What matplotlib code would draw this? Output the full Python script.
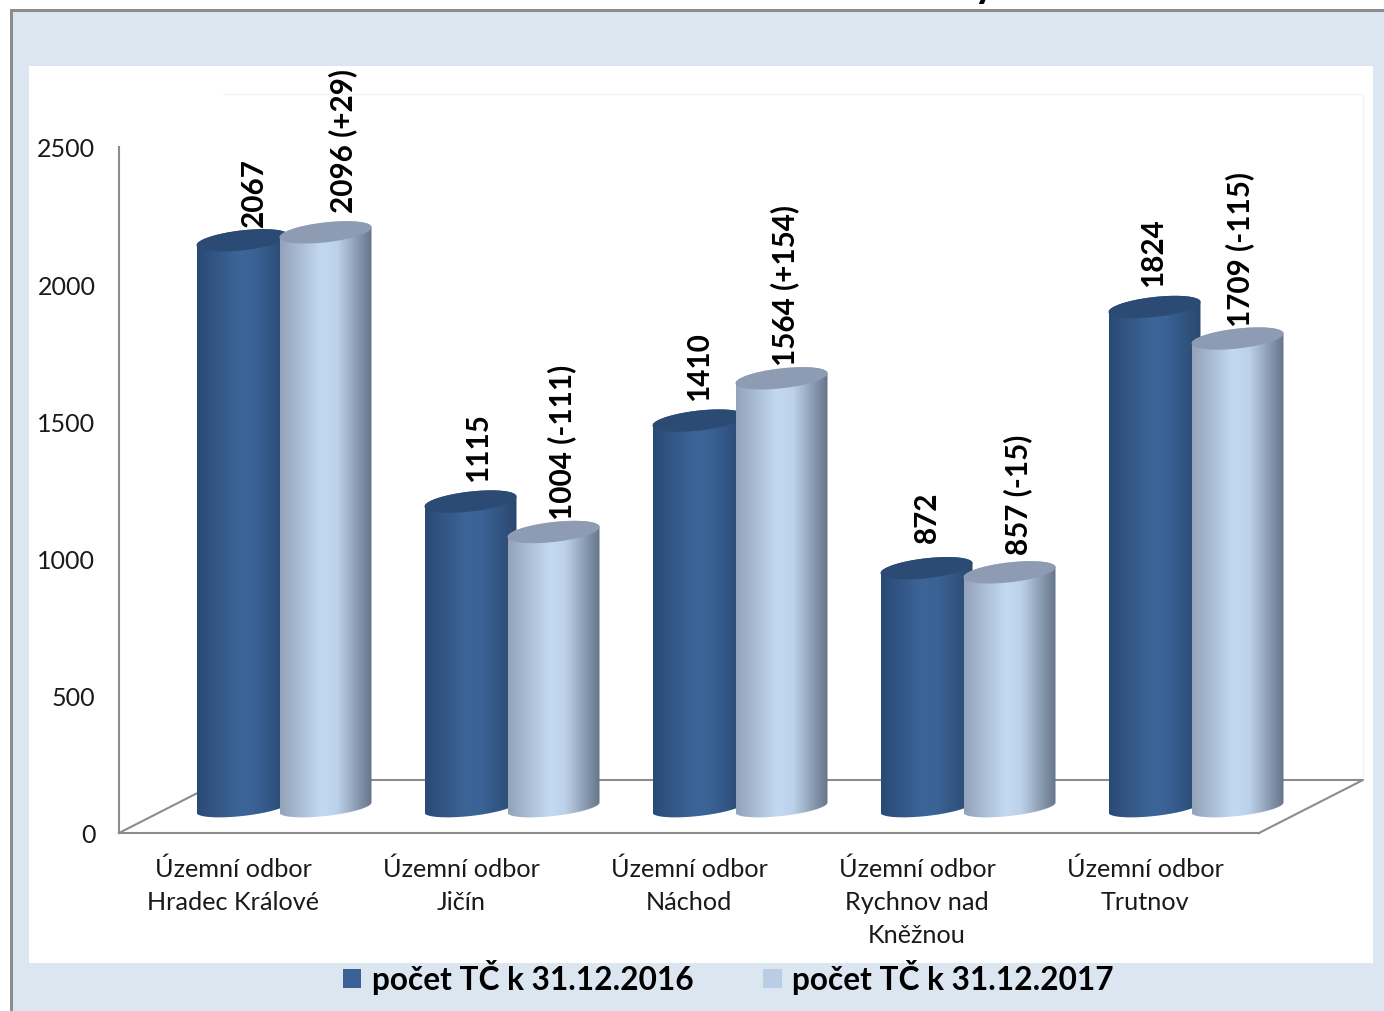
import numpy as np
import matplotlib
matplotlib.use("Agg")
import matplotlib.pyplot as plt
from matplotlib.patches import Rectangle, Polygon

plt.rcParams['font.family'] = ['Lato', 'DejaVu Sans']

# data
categories = ["Územní odbor\nHradec Králové", "Územní odbor\nJičín", "Územní odbor\nNáchod",
              "Územní odbor\nRychnov nad\nKněžnou", "Územní odbor\nTrutnov"]
pocet_2016 = [2067, 1115, 1410, 872, 1824]
pocet_2017 = [2096, 1004, 1564, 857, 1709]
labels_2016 = ["2067", "1115", "1410", "872", "1824"]
labels_2017 = ["2096 (+29)", "1004 (-111)", "1564 (+154)", "857 (-15)", "1709 (-115)"]
legend_names = ["počet TČ k 31.12.2016", "počet TČ k 31.12.2017"]
y_ticks = [0, 500, 1000, 1500, 2000, 2500]

# label nudges in pixels
nudge_x_2016 = [11, 8, 1, 0, -1]
nudge_y_2016 = [14, 21, 21, 26, 21]
nudge_x_2017 = [17, 8, 3, 8, 2]
nudge_y_2017 = [20, 13, 13, 18, 13]

W, H = 1384, 1012
PX_Y = 686 / 2500      # pixels per value
PX_X = 228             # pixels per category


def fx(x):
    return x / W


def fy(y):
    return 1 - y / H


fig = plt.figure(figsize=(W / 100, H / 100), dpi=100, facecolor="white")

# frame and panels
fig.patches.append(Rectangle((fx(10), 0), 1, fy(10), transform=fig.transFigure, fc="#8c8c8c", ec="none"))
fig.patches.append(Rectangle((fx(13), 0), 1, fy(13), transform=fig.transFigure, fc="#dce6f1", ec="none"))
fig.patches.append(Rectangle((fx(29), fy(964)), fx(1373 - 29), (964 - 67) / H, transform=fig.transFigure,
                             fc="white", ec="none"))

ax = fig.add_axes([fx(119), fy(834), 1140 / W, 686 / H], zorder=2)
ax.patch.set_alpha(0)
for s in ["top", "right"]:
    ax.spines[s].set_visible(False)
for s in ["left", "bottom"]:
    ax.spines[s].set_color("#8c8c8c")
    ax.spines[s].set_linewidth(1.5)

# 3D floor and back wall
depth_x = 104 / PX_X
depth_y = 53 / PX_Y
ax.plot([-0.5, -0.5 + depth_x, 4.5 + depth_x, 4.5], [0, depth_y, depth_y, 0],
        color="#8c8c8c", lw=1.5, clip_on=False, zorder=1)
ax.plot([-0.5 + depth_x, 4.5 + depth_x, 4.5 + depth_x], [2500 + depth_y, 2500 + depth_y, depth_y],
        color="#f3f3f3", lw=1, clip_on=False, zorder=0.5)

dark_stops = ["#2a4a76", "#3c6598", "#3a6295", "#2a4870"]
light_stops = ["#93a3b9", "#c3d9f2", "#bdd2ea", "#66758a"]
dark_top = "#2b4a74"
light_top = "#8d9cb2"


def to_rgb_grad(stops):
    rgb = np.array([matplotlib.colors.to_rgb(c) for c in stops])
    pos = [0, 0.45, 0.62, 1]
    t = np.linspace(0, 1, 128)
    return np.dstack([np.interp(t, pos, rgb[:, i]) for i in range(3)])


def cylinder(xc, value, stops, top_color, z):
    a = 46 / PX_X
    b = 10 / PX_Y
    s = 5 / PX_Y
    base = 25.5 / PX_Y
    top = value + base

    t1 = np.linspace(np.pi, 2 * np.pi, 60)
    low_x = xc + a * np.cos(t1)
    low_y = base + 0.85 * b * np.sin(t1) + s * np.cos(t1)
    t2 = np.linspace(0, np.pi, 60)
    up_x = xc + a * np.cos(t2)
    up_y = top + b * np.sin(t2) + s * np.cos(t2)

    body = Polygon(np.column_stack([np.r_[low_x, up_x], np.r_[low_y, up_y]]), closed=True,
                   transform=ax.transData, fc="none", ec="none")
    ax.add_patch(body)
    im = ax.imshow(to_rgb_grad(stops), extent=[xc - a, xc + a, base - 50, top + 60], aspect="auto",
                   zorder=z, interpolation="bilinear")
    im.set_clip_path(body)
    im.set_clip_box(fig.bbox)  # last bar runs past the axes

    t3 = np.linspace(0, 2 * np.pi, 120)
    ax.add_patch(Polygon(np.column_stack([xc + a * np.cos(t3), top + b * np.sin(t3) + s * np.cos(t3)]),
                         closed=True, fc=top_color, ec="none", zorder=z + 0.1, clip_on=False))
    return top


group_shift = 51 / PX_X
bar_shift = 41.5 / PX_X
for i in range(len(categories)):
    xd = i + group_shift - bar_shift
    xl = i + group_shift + bar_shift
    top_d = cylinder(xd, pocet_2016[i], dark_stops, dark_top, 2 + i)
    top_l = cylinder(xl, pocet_2017[i], light_stops, light_top, 2.5 + i)
    ax.annotate(labels_2016[i], (xd, top_d), xytext=(nudge_x_2016[i] * 0.72, nudge_y_2016[i] * 0.72),
                textcoords="offset points", rotation=90, ha="center", va="bottom",
                fontsize=21.3, fontweight="bold", color="black", zorder=20, annotation_clip=False)
    ax.annotate(labels_2017[i], (xl, top_l), xytext=(nudge_x_2017[i] * 0.72, nudge_y_2017[i] * 0.72),
                textcoords="offset points", rotation=90, ha="center", va="bottom",
                fontsize=21.3, fontweight="bold", color="black", zorder=20, annotation_clip=False)

ax.set_xlim(-0.5, 4.5)
ax.set_ylim(0, 2500)
ax.set_yticks(y_ticks)
ax.set_xticks(range(len(categories)))
ax.set_xticklabels(categories, linespacing=1.53)
ax.tick_params(axis="y", length=0, pad=17, labelsize=18, labelcolor="#1a1a1a")
ax.tick_params(axis="x", length=0, pad=17, labelsize=18.2, labelcolor="#1a1a1a")

# legend, drawn by hand so it sits across the panel edge
fig.patches.append(Rectangle((fx(343), fy(989)), 18 / W, 19 / H, transform=fig.transFigure, fc="#3b6296", ec="none"))
fig.text(fx(372), fy(978), legend_names[0], fontsize=22.8, fontweight="bold", va="center", ha="left", color="black")
fig.patches.append(Rectangle((fx(763), fy(989)), 19 / W, 19 / H, transform=fig.transFigure, fc="#b9cde5", ec="none"))
fig.text(fx(792), fy(978), legend_names[1], fontsize=22.8, fontweight="bold", va="center", ha="left", color="black")

# the cut off title leaves only this descender on the picture
fig.text(fx(985), fy(-3), "y", fontsize=30, fontweight="bold", va="baseline", ha="center", color="black")

fig.savefig("out.png", dpi=100)
